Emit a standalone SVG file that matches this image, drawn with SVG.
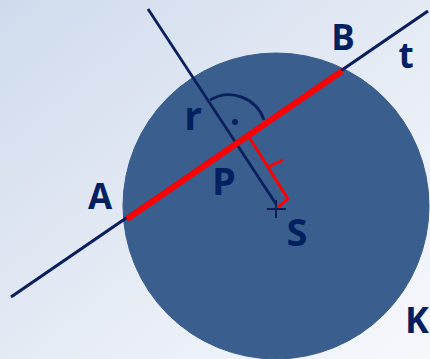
<svg xmlns="http://www.w3.org/2000/svg" width="430" height="359" viewBox="0 0 430 359">
<defs>
<linearGradient id="bg" x1="0" y1="0" x2="1" y2="1">
<stop offset="0" stop-color="#cfdbec"/>
<stop offset="0.5" stop-color="#e4eaf4"/>
<stop offset="1" stop-color="#f6f8fc"/>
</linearGradient>
</defs>
<style>
.lbl{font-family:"Open Sans","Liberation Sans",sans-serif;font-weight:700;fill:#002060;text-anchor:middle}
.navy{stroke:#0a1f5c;fill:none;stroke-linecap:butt}
.red{stroke:#ff0000;fill:none}
</style>
<rect width="430" height="359" fill="url(#bg)"/>
<g id="circleK">
<circle cx="276" cy="206" r="153" fill="#3a5e8d" stroke="#375b89" stroke-width="1"/>
</g>
<g id="connectors">
<line class="navy" x1="11" y1="297" x2="428" y2="11" stroke-width="3.2"/>
<line class="navy" x1="148" y1="9" x2="276" y2="204" stroke-width="2.8"/>
<path class="navy" d="M210,100 A37,37 0 0 1 264,120" stroke-width="2.8"/>
<line class="red" x1="127" y1="219" x2="342" y2="71" stroke-width="6"/>
<polyline class="red" points="249,137 288,199 277,208" stroke-width="3"/>
<polyline class="red" points="268,168 270,166 283,160" stroke-width="3"/>
</g>
<g id="pointS">
<path class="navy" d="M267,209 H286 M276,200 V218" stroke-width="2"/>
</g>
<g id="dot"><circle cx="235" cy="122" r="3" fill="#0a1f5c"/></g>
<g id="labels">
<text class="lbl" x="343" y="50" font-size="35">B</text>
<text class="lbl" x="406" y="68" font-size="35">t</text>
<text class="lbl" x="193" y="130" font-size="39">r</text>
<text class="lbl" x="224" y="195" font-size="38">P</text>
<text class="lbl" x="100" y="209" font-size="35">A</text>
<text class="lbl" x="297" y="246" font-size="38">S</text>
<text class="lbl" x="417" y="333" font-size="36">K</text>
</g>
</svg>
